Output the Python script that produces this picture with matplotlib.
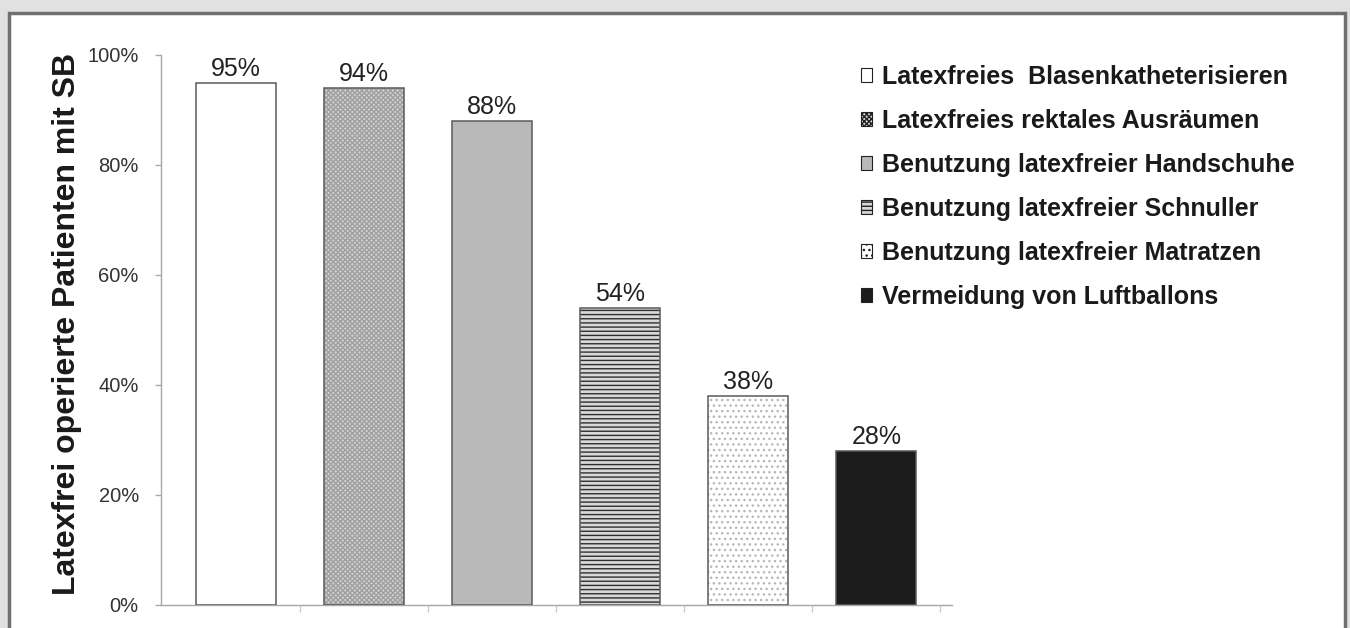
import matplotlib
matplotlib.use("Agg")
import matplotlib.pyplot as plt
from matplotlib.patches import Rectangle, Patch

plt.rcParams['font.family'] = ['Liberation Sans', 'DejaVu Sans']

categories = ["Latexfreies  Blasenkatheterisieren",
              "Latexfreies rektales Ausräumen",
              "Benutzung latexfreier Handschuhe",
              "Benutzung latexfreier Schnuller",
              "Benutzung latexfreier Matratzen",
              "Vermeidung von Luftballons"]
values = [95, 94, 88, 54, 38, 28]
value_labels = ["95%", "94%", "88%", "54%", "38%", "28%"]
ytick_values = [0, 20, 40, 60, 80, 100]
ytick_labels = ["0%", "20%", "40%", "60%", "80%", "100%"]
ylabel = "Latexfrei operierte Patienten mit SB"

faces = ["#ffffff", "#d2d2d2", "#b9b9b9", "#d8d8d8", "#ffffff", "#1c1c1c"]
hatch_cols = ["#ffffff", "#a0a0a0", "#b0b0b0", "#2e2e2e", "#b8b8b8", "#1c1c1c"]
hatches = [None, "xxxxxxx", None, "----", "...", None]

W, H = 1350, 628
fig = plt.figure(figsize=(W / 100, H / 100), dpi=100)
fig.patch.set_facecolor("#e1e1e1")
fig.patches.append(Rectangle((8.5 / W, -0.05), (1345 - 8.5) / W, 1.05 - 13.5 / H,
                             transform=fig.transFigure, facecolor="white",
                             edgecolor="#6f6f6f", linewidth=2.5, zorder=-10))

ax = fig.add_axes([161 / W, 1 - 605 / H, (952 - 161) / W, 550 / H])
ax.set_zorder(5)
ax.set_facecolor("none")
x = list(range(len(values)))
bw = 0.625
for i, v in enumerate(values):
    ax.bar(i, v, width=bw, color=faces[i], edgecolor=hatch_cols[i],
           linewidth=0, hatch=hatches[i], zorder=2)
ax.bar(x, values, width=bw, fill=False, edgecolor="#5a5a5a", linewidth=1.1, zorder=3)

for i, v in enumerate(values):
    ax.text(i, v + 0.3, value_labels[i], ha="center", va="bottom",
            fontsize=18, color="#222222")

ax.set_xlim(-0.586, 5.59)
ax.set_ylim(0, 100)
ax.set_yticks(ytick_values)
ax.set_yticklabels(ytick_labels, fontsize=14.5, color="#333333")
ax.set_xticks([])
ax.set_xticks([i + 0.5 for i in range(len(values))], minor=True)
ax.tick_params(axis="x", which="minor", length=5, color="#cccccc", width=1)
ax.tick_params(axis="y", length=4, color="#aaaaaa", width=1, pad=12)
for s in ["top", "right"]:
    ax.spines[s].set_visible(False)
for s in ["left", "bottom"]:
    ax.spines[s].set_color("#a8a8a8")
    ax.spines[s].set_linewidth(1)

ax.set_ylabel(ylabel, fontsize=23, fontweight="bold", color="#1a1a1a")
ax.yaxis.set_label_coords(-0.1, 0.511)

handles = []
for i, c in enumerate(categories):
    handles.append(Patch(facecolor=faces[i], edgecolor="#222222", linewidth=0.8,
                         hatch=hatches[i]))
leg = fig.legend(handles, categories, loc="upper left",
                 bbox_to_anchor=(851 / W, 1 - 55 / H), frameon=False,
                 prop={"size": 18, "weight": "bold"}, handlelength=0.45,
                 handleheight=0.45, handletextpad=0.4, labelspacing=0.8,
                 borderaxespad=0)
for t in leg.get_texts():
    t.set_color("#1a1a1a")

fig.savefig("out.png", dpi=100, facecolor=fig.get_facecolor())
